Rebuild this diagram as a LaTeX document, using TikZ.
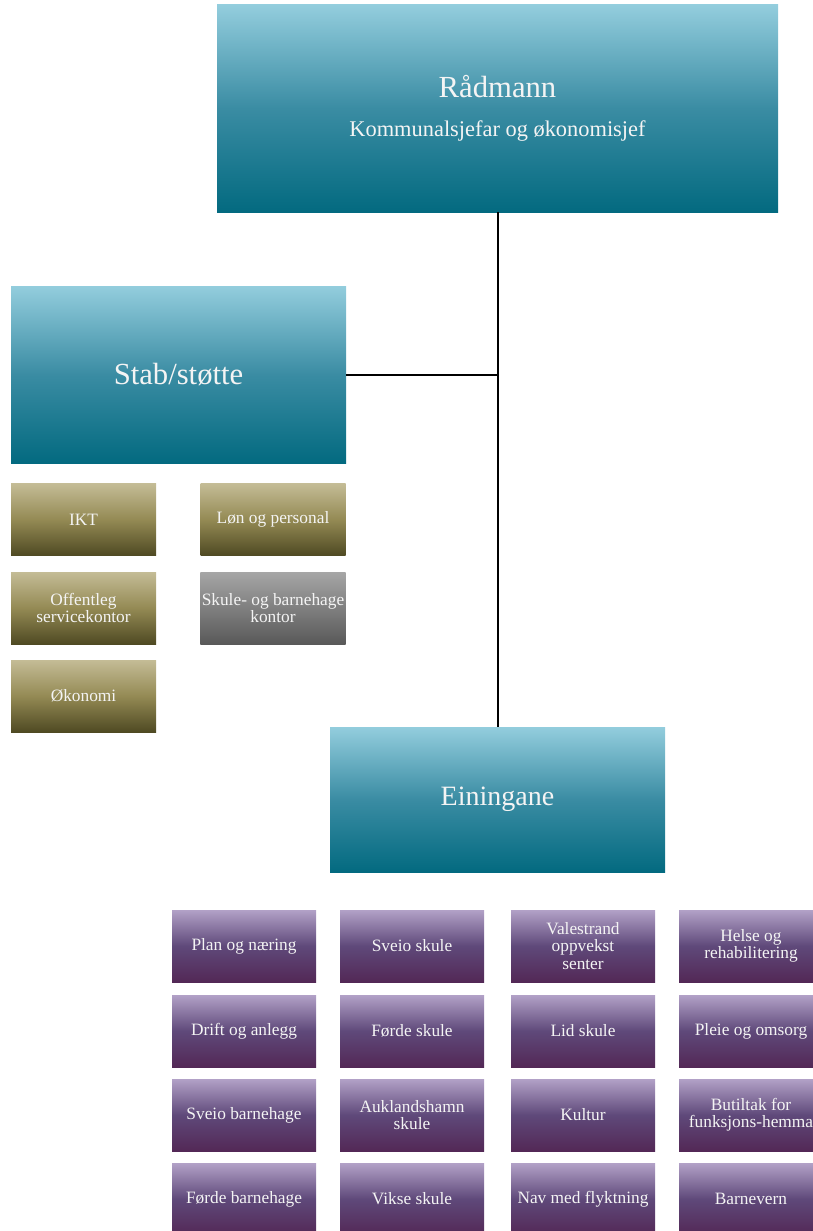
\documentclass[tikz,border=0pt]{standalone}
\usepackage{fontspec}
\setmainfont{Liberation Serif}
\definecolor{tealtop}{HTML}{93CDDD}
\definecolor{tealmid}{HTML}{3A8CA3}
\definecolor{tealbot}{HTML}{036A80}
\definecolor{olivetop}{HTML}{C4BC96}
\definecolor{olivemid}{HTML}{948A54}
\definecolor{olivebot}{HTML}{4F4A23}
\definecolor{greytop}{HTML}{A6A6A6}
\definecolor{greymid}{HTML}{7F7F7F}
\definecolor{greybot}{HTML}{595959}
\definecolor{lilactop}{HTML}{B2A1C7}
\definecolor{lilacmid}{HTML}{5F497A}
\definecolor{lilacbot}{HTML}{532856}
\definecolor{boxtext}{HTML}{F4F4F4}
\tikzset{
  orgbox/.style={rectangle, inner sep=1pt, align=center, text=boxtext},
  mainbox/.style={orgbox, top color=tealtop, bottom color=tealbot, middle color=tealmid,
    font=\fontsize{23}{26}\selectfont},
  smallbox/.style={orgbox, minimum width=108.75pt, minimum height=54pt,
    font=\fontsize{13}{13}\selectfont},
  stabbox/.style={smallbox, top color=olivetop, bottom color=olivebot, middle color=olivemid},
  greybox/.style={smallbox, top color=greytop, bottom color=greybot, middle color=greymid},
  unitbox/.style={smallbox, minimum width=108pt, top color=lilactop, bottom color=lilacbot, middle color=lilacmid},
  link/.style={draw=black, line width=1.5pt}
}
\begin{document}
\begin{tikzpicture}[x=0.75pt,y=-0.75pt]
\useasboundingbox (0,0) rectangle (813,1231);
\clip (0,0) rectangle (813,1231);
% top level
\node [mainbox, minimum width=420.75pt, minimum height=155.25pt] (rad) at (497.5,108.5)
  {R\aa dmann\\[3pt]{\fontsize{16.8}{18}\selectfont Kommunalsjefar og \o konomisjef}};
\node [mainbox, minimum width=251.25pt, minimum height=132.75pt] (stab) at (178.5,374.5) {Stab/st\o tte};
\node [mainbox, minimum width=251.25pt, minimum height=108.75pt, font=\fontsize{21}{24}\selectfont] (ein) at (497.5,799.5) {Einingane};
\draw [link] (rad.south) -- (ein.north);
\draw [link] (stab.east) -- (stab.east -| rad.south);
% stab/stotte
\node [stabbox] (ikt) at (83.5,519.5) {IKT};
\node [stabbox] (lon) at (273,519.5) {L\o n og personal};
\node [stabbox] (osk) at (83.5,608) {Offentleg\\servicekontor};
\node [greybox] (sbk) at (273,608) {Skule- og barnehage\\kontor};
\node [stabbox] (oko) at (83.5,696) {\O konomi};
% einingane
\node [unitbox] (plan) at (244,946) {Plan og n\ae ring};
\node [unitbox] (drift) at (244,1031) {Drift og anlegg};
\node [unitbox] (svbh) at (244,1115) {Sveio barnehage};
\node [unitbox] (fobh) at (244,1199) {F\o rde barnehage};
\node [unitbox] (svsk) at (412,946) {Sveio skule};
\node [unitbox] (fosk) at (412,1031) {F\o rde skule};
\node [unitbox] (aukl) at (412,1115) {Auklandshamn\\skule};
\node [unitbox] (vikse) at (412,1199) {Vikse skule};
\node [unitbox] (vale) at (583,946) {Valestrand\\oppvekst\\senter};
\node [unitbox] (lid) at (583,1031) {Lid skule};
\node [unitbox] (kult) at (583,1115) {Kultur};
\node [unitbox] (nav) at (583,1199) {Nav med flyktning};
\node [unitbox] (helse) at (751,946) {Helse og\\rehabilitering};
\node [unitbox] (pleie) at (751,1031) {Pleie og omsorg};
\node [unitbox] (butil) at (751,1115) {Butiltak for\\funksjons-hemma};
\node [unitbox] (barn) at (751,1199) {Barnevern};
\end{tikzpicture}
\end{document}
